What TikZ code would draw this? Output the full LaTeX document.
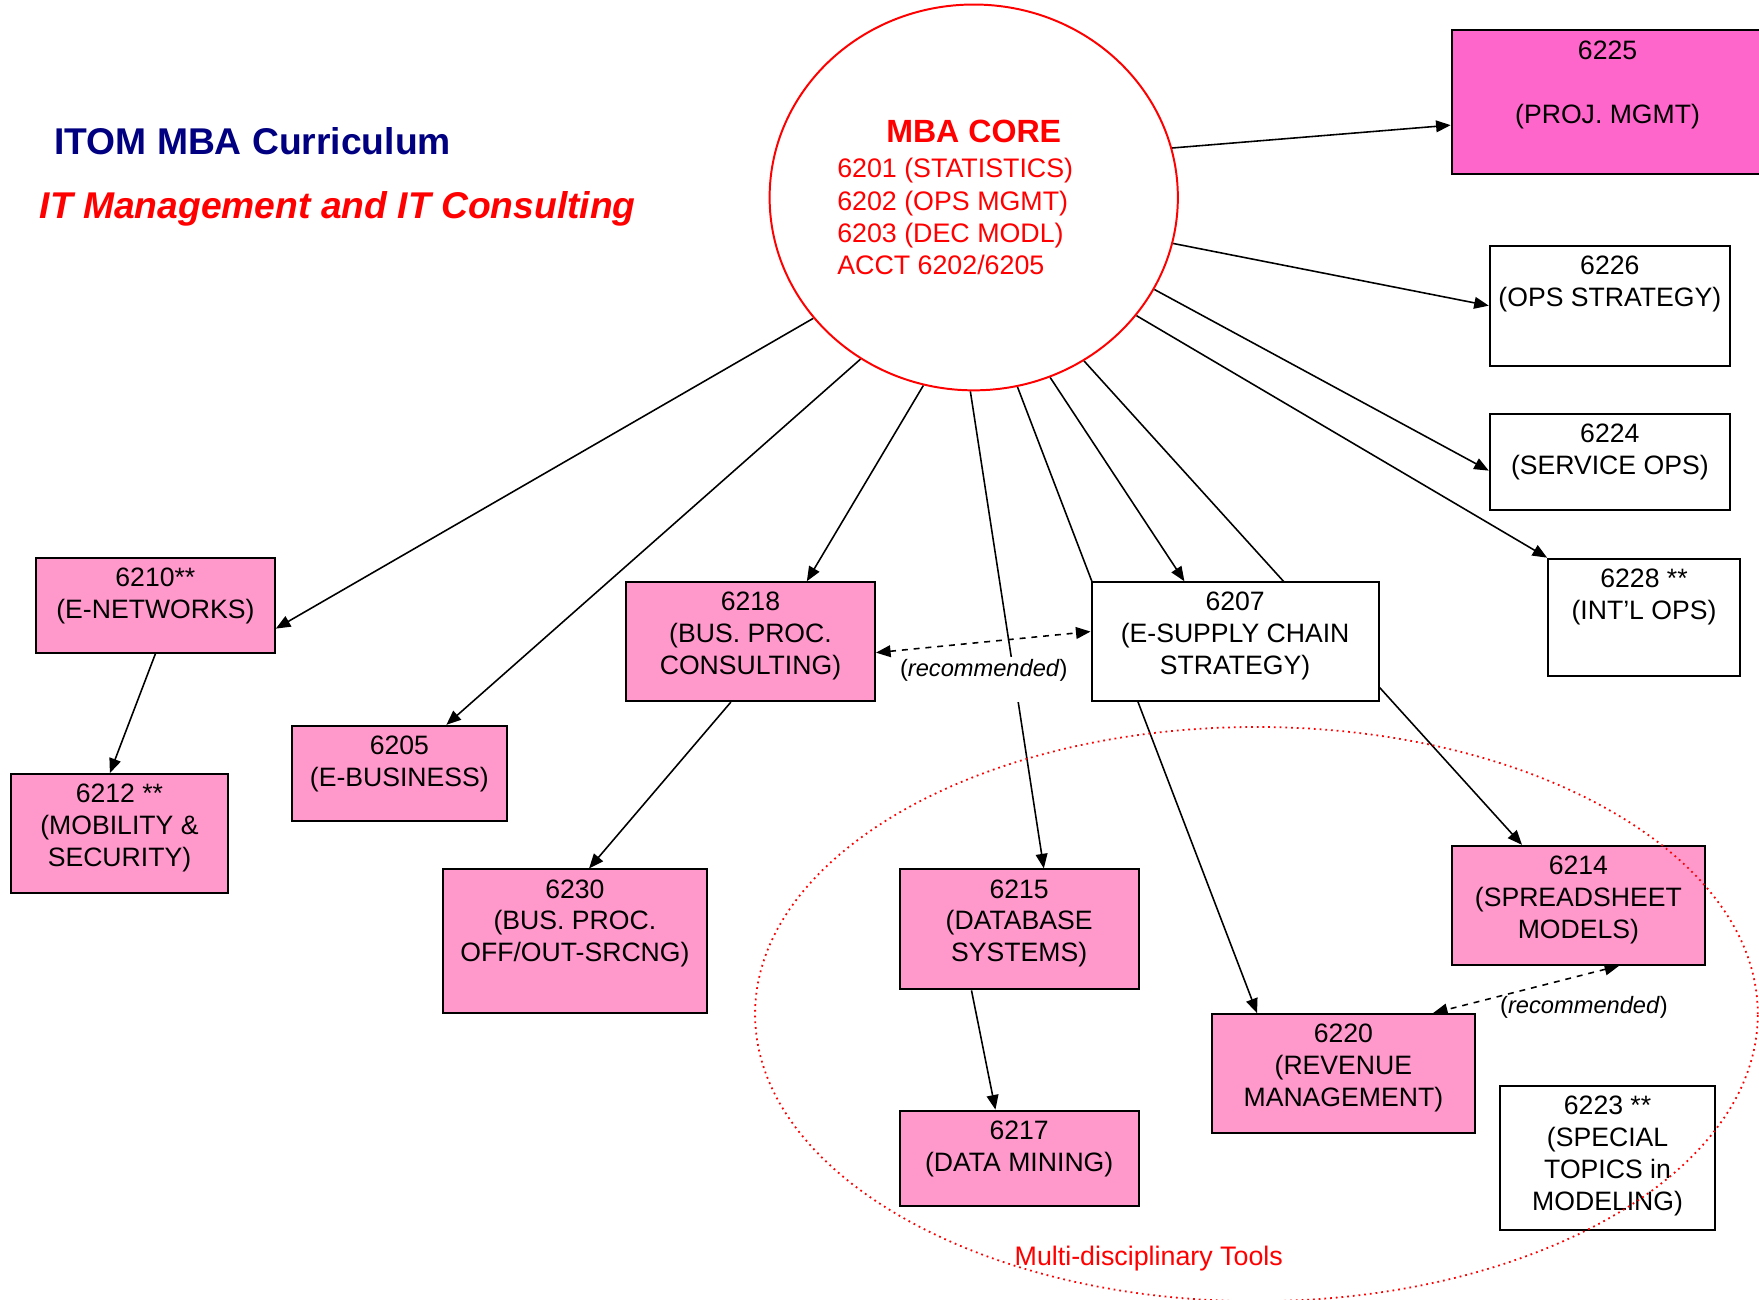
\documentclass[tikz,border=0pt]{standalone}
\usepackage{fontspec}
\setmainfont{Liberation Sans}
\usetikzlibrary{arrows.meta,shapes.geometric,fit}

\definecolor{lightpink}{HTML}{FF99CC}
\definecolor{hotpink}{HTML}{FF66CC}
\definecolor{titleblue}{HTML}{000080}

\pgfdeclarelayer{background}
\pgfsetlayers{background,main}

\tikzset{
  course/.style={draw, line width=1pt, inner sep=0pt, fill=lightpink},
  plaincourse/.style={course, fill=white},
  coursetext/.style={anchor=north, align=center, inner xsep=0pt, inner ysep=0.19cm,
    font=\fontsize{13.5}{16.2}\selectfont},
  link/.style={line width=0.8pt, -{Triangle[length=0.26cm,width=0.21cm]}},
  recommend/.style={line width=0.8pt, dashed,
    {Triangle[length=0.26cm,width=0.21cm]}-{Triangle[length=0.26cm,width=0.21cm]}},
  remark/.style={anchor=base, inner sep=1pt, font=\fontsize{12}{14}\selectfont}
}

\begin{document}
\begin{tikzpicture}[x=0.02cm, y=-0.02cm]
\useasboundingbox (0,0) rectangle (1568,1158);

% titles
\node[anchor=base west, inner sep=0pt, text=titleblue,
  font=\fontsize{18.9}{22}\selectfont\bfseries] (title) at (48,138) {ITOM MBA Curriculum};
\node[anchor=base west, inner sep=0pt, text=red,
  font=\fontsize{18.9}{22}\selectfont\bfseries\itshape] (subtitle) at (35,195) {IT Management and IT Consulting};

% core
\node[draw=red, line width=1pt, ellipse, minimum width=7.28cm, minimum height=6.88cm] (core) at (868,176) {};
\node[anchor=base, inner sep=0pt, text=red, font=\fontsize{16.3}{19}\selectfont\bfseries] (corehead) at (868,127) {MBA CORE};
\node[anchor=north west, align=left, inner sep=0pt, text=red,
  font=\fontsize{13.6}{16.3}\selectfont] (corelist) at (746,141)
  {6201 (STATISTICS)\\6202 (OPS MGMT)\\6203 (DEC MODL)\\ACCT 6202/6205};

% courses
\node[course, fill=hotpink, fit={(1294,27) (1585,155)}] (c6225) {};
\node[coursetext] (t6225) at (1433,27) {6225\\[16.2pt](PROJ. MGMT)};
\node[plaincourse, fit={(1328,219) (1542,326)}] (c6226) {};
\node[coursetext] (t6226) at (c6226.north) {6226\\(OPS STRATEGY)};
\node[plaincourse, fit={(1328,369) (1542,455)}] (c6224) {};
\node[coursetext] (t6224) at (c6224.north) {6224\\(SERVICE OPS)};
\node[plaincourse, fit={(1380,498) (1551,603)}] (c6228) {};
\node[coursetext] (t6228) at (c6228.north) {6228 **\\(INT’L OPS)};
\node[course, fit={(32,497) (245,582)}] (c6210) {};
\node[coursetext] (t6210) at (c6210.north) {6210**\\(E-NETWORKS)};
\node[course, fit={(10,690) (203,796)}] (c6212) {};
\node[coursetext] (t6212) at (c6212.north) {6212 **\\(MOBILITY \&\\SECURITY)};
\node[course, fit={(260,647) (452,732)}] (c6205) {};
\node[coursetext] (t6205) at (c6205.north) {6205\\(E-BUSINESS)};
\node[course, fit={(558,519) (780,625)}] (c6218) {};
\node[coursetext] (t6218) at (c6218.north) {6218\\(BUS. PROC.\\CONSULTING)};
\node[plaincourse, fit={(973,519) (1229,625)}] (c6207) {};
\node[coursetext] (t6207) at (c6207.north) {6207\\(E-SUPPLY CHAIN\\STRATEGY)};
\node[course, fit={(395,775) (630,903)}] (c6230) {};
\node[coursetext] (t6230) at (c6230.north) {6230\\(BUS. PROC.\\OFF/OUT-SRCNG)};
\node[course, fit={(802,775) (1015,882)}] (c6215) {};
\node[coursetext] (t6215) at (c6215.north) {6215\\(DATABASE\\SYSTEMS)};
\node[course, fit={(802,990) (1015,1075)}] (c6217) {};
\node[coursetext] (t6217) at (c6217.north) {6217\\(DATA MINING)};
\node[course, fit={(1294,754) (1520,860)}] (c6214) {};
\node[coursetext] (t6214) at (c6214.north) {6214\\(SPREADSHEET\\MODELS)};
\node[course, fit={(1080,904) (1315,1010)}] (c6220) {};
\node[coursetext] (t6220) at (c6220.north) {6220\\(REVENUE\\MANAGEMENT)};
\node[plaincourse, fit={(1337,968) (1529,1096)}] (c6223) {};
\node[coursetext] (t6223) at (c6223.north) {6223 **\\(SPECIAL\\TOPICS in\\MODELING)};

% prerequisites
\begin{pgfonlayer}{background}
\draw[link] (core.14) -- (c6225.188);
\draw[link] (core.-13) -- (c6226.west);
\draw[link] (core.-27) -- (c6224.184);
\draw[link] (core.-36) -- (c6228.north west);
\draw[link] (core.217) -- (c6210.-11);
\draw[link] (core.235) -- (c6205.46);
\draw[link] (core.255) -- (c6218.47);
\draw[link] (core.269) -- (c6215.68);
\draw[link] (core.-77) -- (c6220.145);
\draw[link] (core.-67) -- (c6207.130);
\draw[link] (core.-56) -- (c6214.133);
\draw[link] (c6210.south) -- (c6212.99);
\draw[link] (c6218.-108) -- (c6230.79);
\draw[link] (c6215.-128) -- (c6217.116);
\draw[recommend] (c6218.-5) -- (c6207.176);
\draw[recommend] (c6214.-56) -- (c6220.34);
\end{pgfonlayer}

\node[remark, fill=white, text depth=0.42cm] (rec1) at (877,603) {(\textit{recommended})};
\node[remark] (rec2) at (1412,903) {(\textit{recommended})};

% tools
\node[anchor=base, inner sep=0pt, text=red, font=\fontsize{13.6}{16}\selectfont] (tools) at (1024,1128) {Multi-disciplinary Tools};
\draw[red, dotted, line width=0.9pt] (1120,904) ellipse [x radius=8.94cm, y radius=5.12cm];
\end{tikzpicture}
\end{document}
